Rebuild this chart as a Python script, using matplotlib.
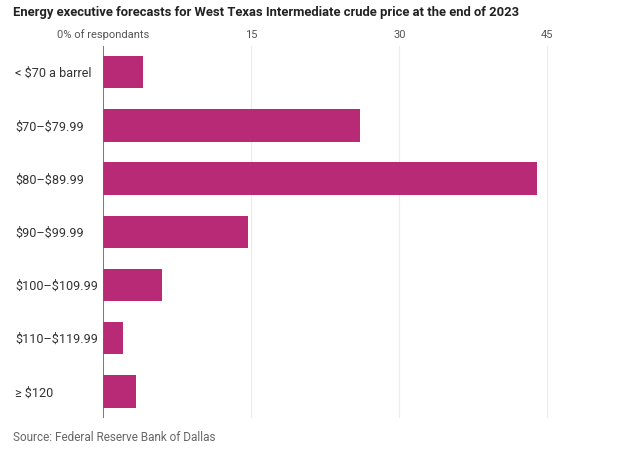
import matplotlib.pyplot as plt

categories = ['< $70 a barrel', '$70–$79.99', '$80–$89.99', '$90–$99.99',
              '$100–$109.99', '$110–$119.99', '≥ $120']
shares = [4.0, 26.0, 44.0, 14.7, 6.0, 2.0, 3.3]
xticks = [0, 15, 30, 45]
xtick_labels = ['0% of respondants', '15', '30', '45']

plt.rcParams['font.family'] = ['Roboto', 'DejaVu Sans']
plt.rcParams['text.parse_math'] = False

fig = plt.figure(figsize=(6.2, 4.53), dpi=100)
ax = fig.add_axes([0.1666, 0.0773, 0.748, 0.822])

ypos = list(range(len(categories)))
ax.barh(ypos, shares, height=0.61, color='#b92a76', zorder=3)

ax.set_ylim(6.5, -0.5)
ax.set_xlim(0, 47)
ax.set_xticks(xticks)
ax.set_xticklabels(xtick_labels, fontsize=8, color='#555555')
ax.xaxis.tick_top()
ax.tick_params(axis='x', length=0, pad=4)
ax.grid(axis='x', color='#ececec', linewidth=0.9, zorder=0)
ax.axvline(0, color='#666666', linewidth=1.2, zorder=4)

ax.set_yticks(ypos)
ax.set_yticklabels(categories, fontsize=9.1, color='#333333', ha='left')
ax.tick_params(axis='y', length=0, pad=63.5)

for s in ax.spines.values():
    s.set_visible(False)

fig.text(0.021, 0.972, 'Energy executive forecasts for West Texas Intermediate crude price at the end of 2023',
         fontsize=9.4, fontweight='bold', color='#222222', va='center', ha='left')
fig.text(0.021, 0.035, 'Source: Federal Reserve Bank of Dallas',
         fontsize=8.5, color='#666666', va='center', ha='left')

fig.savefig('out.png', dpi=100)
